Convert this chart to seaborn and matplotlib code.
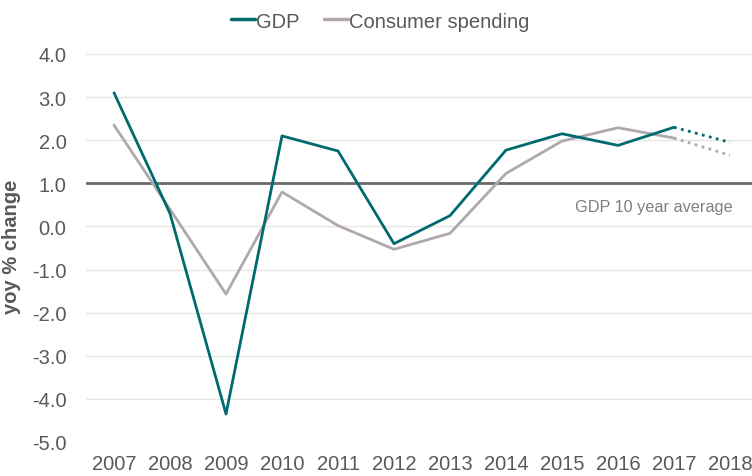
import matplotlib
matplotlib.use("Agg")
import matplotlib.pyplot as plt
import seaborn as sns
import pandas as pd
from matplotlib.lines import Line2D

years = [2007, 2008, 2009, 2010, 2011, 2012, 2013, 2014, 2015, 2016, 2017, 2018]
gdp = [3.1, 0.3, -4.35, 2.1, 1.75, -0.4, 0.25, 1.77, 2.15, 1.88, 2.3, 1.95]
consumer = [2.35, 0.4, -1.57, 0.8, 0.02, -0.53, -0.16, 1.23, 1.98, 2.29, 2.05, 1.65]
gdp_avg = 1.01
yticks = [4.0, 3.0, 2.0, 1.0, 0.0, -1.0, -2.0, -3.0, -4.0, -5.0]

GDP_C = "#006A6E"
CON_C = "#B0A8AC"
TXT = "#595959"

sns.set_theme(style="white")
plt.rcParams['font.family'] = ['Liberation Sans', 'DejaVu Sans']

fig = plt.figure(figsize=(7.52, 4.77), dpi=100)
ax = fig.add_axes([86/752, 1-443/477, 1-86/752, (443-55)/477])

df = pd.DataFrame({"year": years, "GDP": gdp, "Consumer spending": consumer})
solid = df[df.year <= 2017]
fcst = df[df.year >= 2017]

for y in yticks:
    ax.axhline(y, color="#E6E6E6", lw=1, zorder=0)
ax.axhline(gdp_avg, color="#6B6B6B", lw=2, zorder=1)

sns.lineplot(data=solid, x="year", y="Consumer spending", ax=ax, color=CON_C, lw=2, zorder=2)
sns.lineplot(data=solid, x="year", y="GDP", ax=ax, color=GDP_C, lw=2, zorder=3)
sns.lineplot(data=fcst, x="year", y="Consumer spending", ax=ax, color=CON_C, lw=2, linestyle=(0, (1, 1.6)), zorder=2)
sns.lineplot(data=fcst, x="year", y="GDP", ax=ax, color=GDP_C, lw=2, linestyle=(0, (1, 1.6)), zorder=3)

ax.set_xlim(2006.5, 2006.5 + (752-86)/56.0)
ax.set_ylim(-5.0, 4.0)
ax.set_yticks(yticks)
ax.set_yticklabels([f"{v:.1f}" for v in yticks], fontsize=14.5, color=TXT)
ax.set_xticks(years)
ax.set_xticklabels([str(y) for y in years], fontsize=14.5, color=TXT)
ax.tick_params(axis="y", length=0, pad=14)
ax.tick_params(axis="x", length=0, pad=9)
for s in ax.spines.values():
    s.set_visible(False)
ax.set_xlabel("")
ax.set_ylabel("yoy % change", fontsize=14.5, fontweight="bold", color=TXT)
ax.yaxis.set_label_coords(-0.097, 0.505)
ax.text(2018.05, 0.47, "GDP 10 year average", fontsize=11.7, color="#7F7F7F", ha="right", va="center")

handles = [Line2D([], [], color=GDP_C, lw=2.5), Line2D([], [], color=CON_C, lw=2.5)]
fig.legend(handles, ["GDP", "Consumer spending"], loc="center", bbox_to_anchor=(380/752, 1-22/477),
           ncol=2, frameon=False, fontsize=14.5, handlelength=1.2, handletextpad=0.05,
           columnspacing=1.2, labelcolor=TXT, borderpad=0)

fig.savefig("out.png", dpi=100)
